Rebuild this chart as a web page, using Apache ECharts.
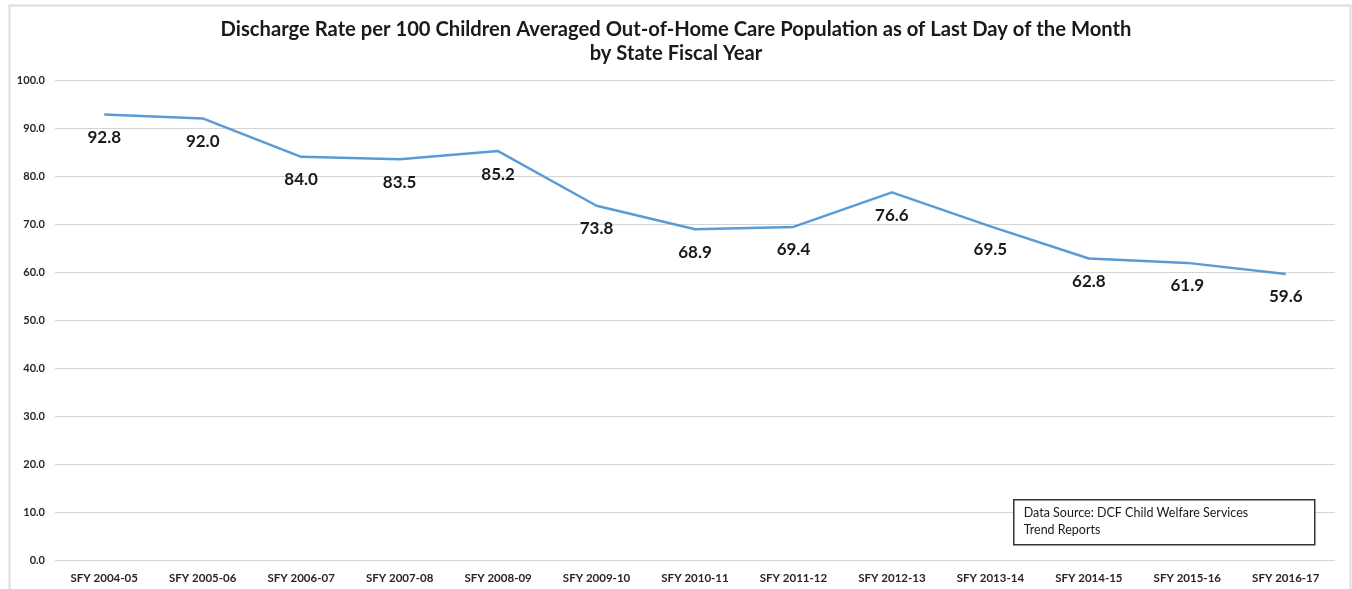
<!DOCTYPE html>
<html>
<head>
<meta charset="utf-8">
<script src="https://cdn.jsdelivr.net/npm/echarts@6/dist/echarts.min.js"></script>
<style>
html,body{margin:0;padding:0;background:#fff;}
#chart{width:1352px;height:589px;}
</style>
</head>
<body>
<div id="chart"></div>
<script>
const categories = ['SFY 2004-05','SFY 2005-06','SFY 2006-07','SFY 2007-08','SFY 2008-09','SFY 2009-10','SFY 2010-11','SFY 2011-12','SFY 2012-13','SFY 2013-14','SFY 2014-15','SFY 2015-16','SFY 2016-17'];
const dischargeRate = [92.8, 92.0, 84.0, 83.5, 85.2, 73.8, 68.9, 69.4, 76.6, 69.5, 62.8, 61.9, 59.6];
const titleLines = ['Discharge Rate per 100 Children Averaged Out-of-Home Care Population as of Last Day of the Month', 'by State Fiscal Year'];
const sourceNote = ['Data Source: DCF Child Welfare Services', 'Trend Reports'];

const FONT = 'Lato, "Open Sans", sans-serif';
const chart = echarts.init(document.getElementById('chart'));
chart.setOption({
  backgroundColor: '#fff',
  animation: false,
  title: {
    text: titleLines.join('\n'),
    left: 'center',
    top: 12,
    textStyle: { fontFamily: FONT, fontSize: 20.2, fontWeight: 'bold', color: '#1a1a1a', lineHeight: 24 }
  },
  grid: { left: 55, right: 17, top: 80, bottom: 29, containLabel: false },
  xAxis: {
    type: 'category',
    data: categories,
    boundaryGap: true,
    axisLine: { show: false },
    axisTick: { show: false },
    axisLabel: { fontFamily: FONT, fontSize: 11.5, fontWeight: 'bold', color: '#262626', margin: 12, interval: 0 }
  },
  yAxis: {
    type: 'value',
    min: 0, max: 100, interval: 10,
    axisLine: { show: false },
    axisTick: { show: false },
    axisLabel: { fontFamily: FONT, fontSize: 11, fontWeight: 'bold', color: '#262626', margin: 10,
      formatter: v => v.toFixed(1) },
    splitLine: { lineStyle: { color: '#d4d4d4', width: 1.2 } }
  },
  series: [{
    type: 'line',
    data: dischargeRate,
    showSymbol: true,
    symbol: 'circle',
    symbolSize: 1,
    itemStyle: { color: 'rgba(0,0,0,0)', borderWidth: 0 },
    lineStyle: { color: '#5B9BD5', width: 2.5 },
    label: {
      show: true,
      position: 'bottom',
      distance: 14,
      opacity: 1,
      formatter: p => p.value.toFixed(1),
      fontFamily: FONT, fontSize: 17, fontWeight: 'bold', color: '#1a1a1a'
    }
  }],
  graphic: [
    { type: 'rect', left: 7, top: 3, shape: { width: 1341, height: 590 },
      style: { fill: 'none', stroke: '#dcdcdc', lineWidth: 2 }, silent: true },
    { type: 'group', left: 1013, top: 499, z: 100, children: [
      { type: 'rect', z: 100, shape: { x: 0, y: 0, width: 301, height: 45 },
        style: { fill: '#fff', stroke: '#333', lineWidth: 1.5 } },
      { type: 'text', z: 101, x: 10, y: 5,
        style: { text: sourceNote.join('\n'), fontFamily: FONT, fontSize: 12.5, lineHeight: 17, fill: '#1a1a1a' } }
    ]}
  ]
});
</script>
</body>
</html>
